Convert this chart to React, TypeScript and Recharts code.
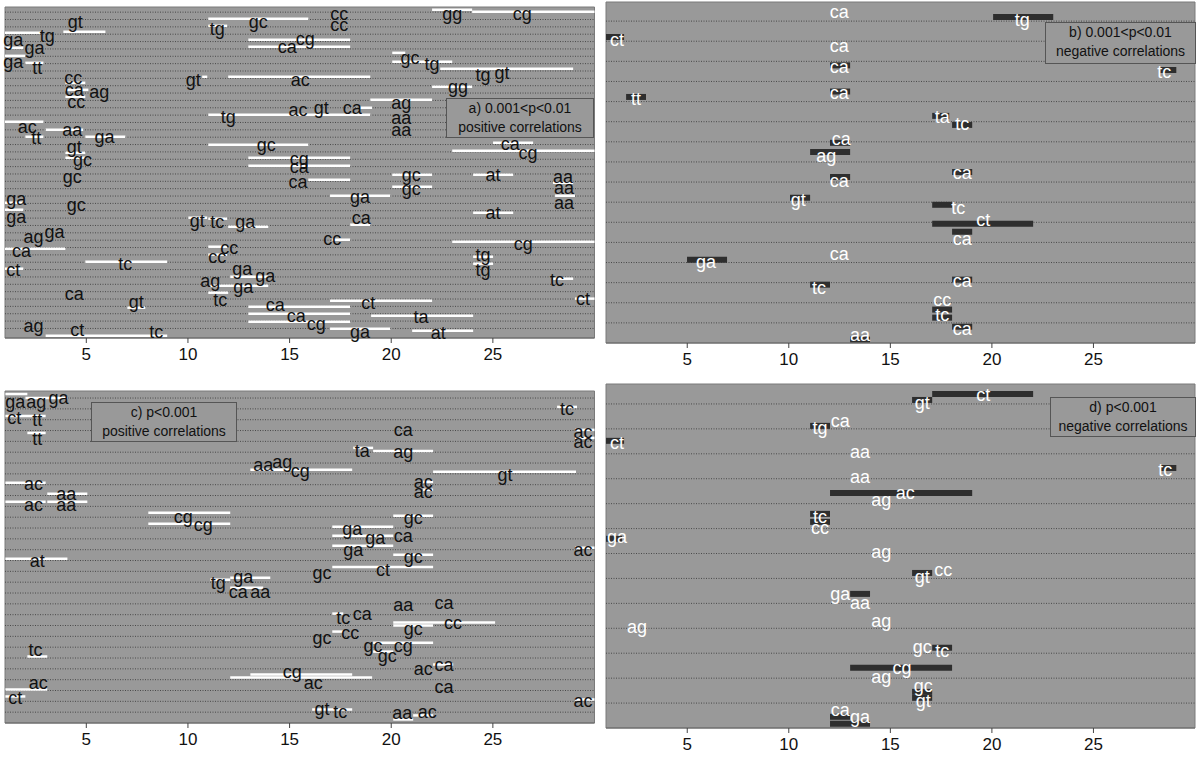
import React from "react";
import {
  ScatterChart, Scatter, XAxis, YAxis, ReferenceLine, ReferenceArea
} from "recharts";

// label: [text, position, row]   segment: [row, from, to]
type Lab = [string, number, number];
type Seg = [number, number, number];

const xTicks = [5, 10, 15, 20, 25];

// a) 0.001<p<0.01 positive correlations
const labelsA: Lab[] = [
  ["gt", 4.46, 2.32], ["tg", 3.08, 4.22], ["ga", 1.41, 4.76], ["ga", 2.45, 5.85], ["ga", 1.41, 7.75],
  ["tt", 2.59, 8.57], ["cc", 4.36, 9.93], ["ca", 4.41, 11.56], ["ag", 5.64, 11.83], ["cc", 4.51, 13.19],
  ["ac", 2.1, 16.58], ["tt", 2.54, 18.08], ["aa", 4.31, 17.0], ["ga", 5.89, 17.94], ["gt", 4.41, 19.3],
  ["gc", 4.81, 21.07], ["gc", 4.31, 23.38], ["ga", 1.56, 26.37], ["gc", 4.51, 27.18], ["ga", 1.56, 28.81],
  ["ag", 2.4, 31.53], ["ga", 3.43, 30.85], ["ca", 1.81, 33.43], ["tc", 6.92, 35.2], ["ct", 1.41, 36.01],
  ["ca", 4.41, 39.27], ["gt", 7.46, 40.36], ["ag", 2.4, 43.62], ["ct", 4.56, 44.17], ["tc", 8.44, 44.44],
  ["gt", 10.26, 10.2], ["tg", 11.44, 3.27], ["gc", 13.46, 2.32], ["ca", 14.88, 5.71], ["cg", 15.77, 4.63],
  ["cc", 17.44, 1.23], ["cc", 17.44, 2.73], ["ac", 15.52, 10.2], ["tg", 11.98, 15.23], ["ac", 15.42, 14.27],
  ["gt", 16.56, 14.0], ["ca", 18.08, 14.0], ["gc", 13.85, 19.03], ["cg", 15.47, 20.93], ["ca", 15.47, 22.02],
  ["ca", 15.42, 24.06], ["gg", 23.0, 1.23], ["cg", 26.44, 1.23], ["gc", 20.93, 7.21], ["tg", 22.01, 8.03],
  ["tg", 24.52, 9.52], ["gt", 25.45, 9.25], ["gg", 23.29, 11.15], ["ag", 20.49, 13.32], ["aa", 20.49, 15.36],
  ["aa", 20.49, 16.99], ["ca", 25.85, 18.89], ["cg", 26.73, 20.12], ["at", 25.01, 23.11], ["aa", 28.45, 23.38],
  ["gc", 20.98, 23.11], ["gc", 20.98, 25.01], ["aa", 28.5, 24.87], ["aa", 28.5, 26.91], ["ga", 18.47, 26.1],
  ["ca", 18.52, 28.95], ["at", 25.01, 28.27], ["cc", 17.1, 31.8], ["cg", 26.49, 32.48], ["tg", 24.52, 33.97],
  ["tg", 24.52, 36.01], ["tc", 28.16, 37.37], ["ct", 29.44, 39.95], ["ct", 18.87, 40.5], ["ca", 14.29, 40.77],
  ["ca", 15.33, 42.26], ["cg", 16.31, 43.35], ["ta", 21.47, 42.4], ["ga", 18.47, 44.44], ["at", 22.31, 44.57],
  ["gt", 10.46, 29.36], ["tc", 11.44, 29.49], ["ga", 12.82, 29.49], ["cc", 12.03, 33.02], ["cc", 11.44, 34.25],
  ["ga", 12.67, 35.88], ["ga", 13.8, 36.83], ["ag", 11.1, 37.5], ["ga", 12.72, 38.32], ["tc", 11.59, 40.09],
];
const segsA: Seg[] = [
  [1.91, 11.0, 15.92], [2.86, 11.0, 11.93], [3.81, 1.0, 2.74], [3.68, 3.87, 5.94], [4.76, 12.97, 17.98],
  [5.71, 12.97, 17.98], [5.85, 1.0, 1.9], [6.94, 1.0, 2.0], [7.89, 2.0, 2.89], [9.79, 11.98, 18.97],
  [9.79, 10.7, 10.95], [10.61, 3.97, 4.95], [11.56, 3.97, 5.1], [12.51, 3.97, 4.95], [14.95, 11.0, 18.97],
  [12.92, 18.97, 22.01], [14.0, 18.47, 19.06], [15.9, 1.0, 2.89], [16.99, 3.0, 4.85], [17.94, 2.0, 2.89],
  [17.94, 4.95, 6.92], [19.03, 11.0, 15.92], [18.76, 25.01, 26.98], [19.84, 23.0, 30], [20.12, 3.97, 4.95],
  [20.8, 12.97, 17.98], [21.88, 12.97, 17.98], [20.8, 3.97, 4.95], [0.69, 22.01, 23.98], [0.96, 23.98, 30],
  [6.53, 20.05, 20.69], [7.75, 20.05, 23.0], [8.7, 22.41, 28.95], [11.15, 22.01, 23.98], [23.11, 20.05, 22.01],
  [23.11, 24.03, 26.0], [23.79, 15.92, 17.98], [24.19, 27.96, 28.95], [24.74, 20.05, 22.01], [25.96, 16.99, 19.95],
  [25.96, 28.06, 29.04], [28.27, 24.03, 26.0], [29.9, 17.98, 18.97], [31.94, 17.1, 17.98], [32.21, 23.0, 30],
  [34.25, 24.03, 25.01], [35.2, 24.03, 25.01], [37.24, 27.96, 28.95], [39.95, 29.04, 30], [40.23, 16.99, 22.01],
  [41.04, 12.97, 17.98], [41.99, 12.97, 17.98], [42.26, 19.01, 24.03], [43.08, 12.97, 17.98], [44.03, 16.99, 19.95],
  [44.3, 21.03, 24.03], [27.86, 1.0, 1.9], [26.91, 1.0, 1.9], [33.16, 1.0, 3.97], [34.93, 4.95, 8.98],
  [35.88, 1.0, 1.9], [41.18, 7.02, 7.9], [44.98, 3.0, 8.98], [28.95, 10.02, 10.95], [29.08, 11.0, 11.93],
  [30.17, 11.98, 13.95], [32.89, 11.0, 11.93], [33.97, 11.0, 11.93], [36.97, 12.08, 13.95], [38.19, 11.1, 13.95],
  [39.14, 11.0, 11.98],
];

// b) 0.001<p<0.01 negative correlations
const labelsB: Lab[] = [
  ["ca", 12.48, 0.55], ["tg", 21.49, 0.95], ["ct", 1.54, 1.94], ["ca", 12.48, 2.24], ["ca", 12.48, 3.28],
  ["tc", 28.49, 3.53], ["tt", 2.48, 4.87], ["ca", 12.48, 4.57], ["ta", 17.55, 5.76], ["tc", 18.54, 6.11],
  ["ca", 12.58, 6.86], ["ag", 11.84, 7.7], ["ca", 12.48, 8.94], ["ca", 18.54, 8.54], ["gt", 10.46, 9.88],
  ["tc", 18.34, 10.28], ["ct", 19.57, 10.88], ["ca", 18.54, 11.82], ["ca", 12.48, 12.56], ["ga", 5.93, 12.96],
  ["ca", 18.54, 13.9], ["tc", 11.49, 14.25], ["cc", 17.55, 14.85], ["tc", 17.55, 15.59], ["ca", 18.54, 16.29],
  ["aa", 13.51, 16.58],
];
const segsB: Seg[] = [
  [0.8, 20.06, 23.02], [1.79, 1.0, 1.89], [3.43, 28.29, 29.08], [4.77, 1.99, 2.97], [5.71, 17.06, 17.9],
  [6.16, 18.04, 19.03], [7.05, 12.03, 13.02], [7.5, 11.05, 13.02], [9.78, 10.06, 11.05], [10.13, 17.06, 18.04],
  [11.07, 17.06, 22.03], [11.47, 18.04, 19.03], [12.86, 4.99, 6.96], [14.1, 11.05, 12.03], [15.34, 17.06, 18.04],
  [15.74, 17.06, 18.04], [16.19, 18.04, 19.03], [16.83, 13.02, 14.0], [3.2, 12.03, 13.02], [4.5, 12.03, 13.02],
  [8.75, 12.03, 13.02], [8.5, 18.04, 19.03], [13.85, 18.04, 19.03],
];

// c) p<0.001 positive correlations
const labelsC: Lab[] = [
  ["ga", 1.51, 1.36], ["ag", 2.54, 1.36], ["ga", 3.63, 1.0], ["ct", 1.46, 2.84], ["tt", 2.59, 3.02],
  ["tt", 2.59, 4.77], ["ac", 2.4, 8.92], ["ac", 2.4, 10.86], ["aa", 4.02, 9.84], ["aa", 4.02, 10.86],
  ["cg", 9.77, 11.96], ["cg", 10.75, 12.7], ["at", 2.59, 16.02], ["aa", 13.7, 7.17], ["ag", 14.64, 6.89],
  ["cg", 15.52, 7.72], ["tc", 28.65, 1.99], ["ca", 20.59, 3.94], ["ac", 29.44, 4.13], ["ac", 29.44, 5.05],
  ["ta", 18.57, 5.88], ["ag", 20.59, 5.97], ["gt", 25.6, 8.09], ["ac", 21.57, 8.74], ["ac", 21.57, 9.66],
  ["gc", 21.08, 12.05], ["ga", 18.08, 13.07], ["ga", 19.21, 13.9], ["ca", 20.59, 13.71], ["ga", 18.13, 14.99],
  ["gc", 21.08, 15.65], ["ac", 29.44, 14.99], ["ct", 19.6, 16.85], ["gc", 16.6, 17.12], ["tg", 11.49, 18.05],
  ["ga", 12.72, 17.49], ["ca", 12.48, 18.88], ["aa", 13.56, 18.88], ["aa", 20.59, 20.08], ["ca", 22.6, 19.89],
  ["tc", 17.64, 21.28], ["ca", 18.57, 20.92], ["gc", 21.08, 22.28], ["cc", 23.04, 21.73], ["gc", 16.6, 23.11],
  ["cc", 17.98, 22.65], ["gc", 19.11, 23.85], ["cg", 20.59, 23.85], ["gc", 19.8, 24.77], ["ac", 21.57, 26.06],
  ["ca", 22.6, 25.6], ["ca", 22.6, 27.72], ["cg", 15.13, 26.25], ["ac", 16.16, 27.27], ["ac", 29.44, 28.99],
  ["gt", 16.6, 29.75], ["tc", 17.49, 30.03], ["aa", 20.54, 30.12], ["ac", 21.77, 30.03], ["tc", 2.5, 24.22],
  ["ac", 2.64, 27.27], ["ct", 1.51, 28.65],
];
const segsC: Seg[] = [
  [0.63, 1.02, 2.1], [1.0, 2.0, 4.07], [2.65, 1.02, 3.0], [4.22, 2.1, 3.0], [8.83, 1.02, 3.0],
  [10.58, 1.02, 3.0], [9.84, 3.08, 5.05], [10.58, 3.08, 5.05], [11.59, 8.05, 12.08], [12.6, 8.05, 12.08],
  [15.83, 1.02, 4.07], [7.63, 13.07, 18.08], [1.82, 28.16, 29.14], [3.94, 29.04, 30], [4.68, 29.04, 30],
  [5.6, 18.13, 19.11], [5.88, 19.11, 22.06], [7.81, 22.06, 29.09], [8.74, 21.57, 22.06], [9.47, 21.57, 22.06],
  [11.87, 20.1, 22.06], [12.88, 17.1, 20.1], [13.71, 17.1, 20.1], [14.63, 17.1, 20.1], [15.46, 20.1, 22.06],
  [14.82, 29.04, 30], [16.6, 17.1, 22.06], [17.77, 11.1, 12.08], [17.59, 12.08, 14.05], [18.51, 12.08, 13.7],
  [20.9, 17.1, 17.64], [21.73, 20.1, 25.11], [22.0, 20.1, 22.06], [22.56, 17.1, 17.64], [23.58, 19.11, 22.06],
  [24.41, 19.11, 20.1], [25.6, 22.06, 23.05], [26.8, 12.08, 19.06], [26.52, 13.07, 18.08], [28.83, 29.04, 30],
  [29.75, 16.11, 18.08], [30.67, 20.1, 21.08], [30.3, 21.08, 22.06], [24.86, 2.1, 3.08], [27.91, 1.02, 3.08],
  [28.55, 1.02, 2.0],
];

// d) p<0.001 negative correlations
const labelsD: Lab[] = [
  ["ct", 19.57, 0.64], ["gt", 16.57, 0.96], ["tg", 11.54, 1.96], ["ca", 12.53, 1.68], ["ct", 1.54, 2.57],
  ["aa", 13.51, 2.93], ["aa", 13.51, 3.93], ["tc", 28.54, 3.65], ["ac", 15.73, 4.57], ["ag", 14.55, 4.85],
  ["tc", 11.54, 5.53], ["cc", 11.54, 5.97], ["ga", 1.54, 6.33], ["ag", 14.55, 6.93], ["cc", 17.6, 7.66],
  ["gt", 16.57, 7.94], ["ga", 12.53, 8.62], ["aa", 13.51, 8.98], ["ag", 2.53, 9.94], ["ag", 14.55, 9.7],
  ["gc", 16.57, 10.74], ["tc", 17.55, 10.9], ["cg", 15.58, 11.58], ["ag", 14.55, 11.94], ["gc", 16.62, 12.3],
  ["gt", 16.62, 12.91], ["ca", 12.53, 13.27], ["ga", 13.51, 13.55],
];
const segsD: Seg[] = [
  [0.6, 17.06, 22.03], [0.84, 16.07, 17.06], [1.88, 11.05, 12.03], [2.48, 1.0, 1.89], [3.57, 28.29, 29.08],
  [4.57, 12.03, 19.03], [5.41, 11.05, 12.03], [5.73, 11.05, 12.03], [6.41, 1.0, 1.79], [7.78, 16.07, 17.06],
  [8.62, 13.02, 14.0], [10.78, 17.06, 18.04], [11.58, 13.02, 18.04], [12.55, 16.07, 17.06], [12.79, 16.07, 17.06],
  [13.55, 12.03, 13.02], [13.83, 12.03, 14.0],
];

const rowsA = Array.from({ length: 44 }, (_, i) => i + 1);
const rowsB = Array.from({ length: 16 }, (_, i) => i + 1);
const rowsC = Array.from({ length: 30 }, (_, i) => i + 1);
const rowsD = Array.from({ length: 13 }, (_, i) => i + 1);

const FONT = "'Liberation Sans', Arial, sans-serif";
const BG = "#999999";

interface PanelProps {
  left: number; top: number; height: number;
  marginTop: number; marginLeft: number; marginRight: number; axisH: number;
  yDomain: [number, number]; rows: number[];
  labels: Lab[]; segs: Seg[];
  dark: boolean;
}

function Panel(p: PanelProps) {
  const data = p.labels.map(([t, x, y]) => ({ t, x, y }));
  const segColor = p.dark ? "#2e2e2e" : "#ffffff";
  const segW = p.dark ? 6 : 2.5;
  const txtColor = p.dark ? "#ffffff" : "#111111";
  return (
    <div style={{ position: "absolute", left: p.left, top: p.top }}>
      <ScatterChart
        width={600}
        height={p.height}
        margin={{ top: p.marginTop, right: p.marginRight, bottom: 2, left: p.marginLeft }}
      >
        <XAxis
          dataKey="x" type="number" domain={[1, 30]} ticks={xTicks} interval={0}
          height={p.axisH} tickSize={5} tickMargin={5}
          tick={{ fontSize: 17, fill: "#111", fontFamily: FONT }}
          tickLine={{ stroke: "#444" }} axisLine={{ stroke: "#666" }}
        />
        <YAxis dataKey="y" type="number" domain={p.yDomain} reversed hide />
        <ReferenceArea
          x1={1} x2={30} y1={p.yDomain[0]} y2={p.yDomain[1]}
          fill={BG} fillOpacity={1} stroke="#7a7a7a"
        />
        {p.rows.map((r) => (
          <ReferenceLine key={"g" + r} y={r} stroke="#4a4a4a" strokeDasharray="1 1.5" strokeWidth={1} />
        ))}
        {p.segs.map(([y, x1, x2], i) => (
          <ReferenceLine
            key={"s" + i}
            segment={[{ x: x1, y }, { x: x2, y }]}
            stroke={segColor} strokeWidth={segW}
          />
        ))}
        <Scatter
          data={data}
          isAnimationActive={false}
          shape={(s: any) => (
            <text
              x={s.cx} y={s.cy} textAnchor="middle" dominantBaseline="central"
              fontSize={18} fontFamily={FONT} fill={txtColor}
            >
              {s.payload.t}
            </text>
          )}
        />
      </ScatterChart>
    </div>
  );
}

function LegendBox({ x, y, w, h, lines }: { x: number; y: number; w: number; h: number; lines: string[] }) {
  return (
    <div
      style={{
        position: "absolute", left: x, top: y, width: w, height: h, boxSizing: "border-box",
        border: "1px solid #555", background: BG, fontFamily: FONT, fontSize: 14,
        color: "#111", textAlign: "center", lineHeight: "19px",
      }}
    >
      {lines.map((l) => <div key={l}>{l}</div>)}
    </div>
  );
}

export default function App() {
  return (
    <div style={{ position: "absolute", left: 0, top: 0, width: 1200, height: 757, background: "#fff" }}>
      <Panel left={0} top={0} height={372} marginTop={7} marginLeft={5} marginRight={5.5} axisH={32}
        yDomain={[0.3, 45.3]} rows={rowsA} labels={labelsA} segs={segsA} dark={false} />
      <Panel left={600} top={0} height={372} marginTop={2} marginLeft={6} marginRight={5} axisH={27}
        yDomain={[0.05, 17]} rows={rowsB} labels={labelsB} segs={segsB} dark />
      <Panel left={0} top={384} height={373} marginTop={7} marginLeft={5} marginRight={5.5} axisH={32}
        yDomain={[0.35, 31]} rows={rowsC} labels={labelsC} segs={segsC} dark={false} />
      <Panel left={600} top={380} height={377} marginTop={4} marginLeft={6} marginRight={5} axisH={27}
        yDomain={[0.2, 14]} rows={rowsD} labels={labelsD} segs={segsD} dark />
      <LegendBox x={446} y={98} w={148} h={40} lines={["a) 0.001<p<0.01", "positive correlations"]} />
      <LegendBox x={1045} y={22} w={151} h={42} lines={["b) 0.001<p<0.01", "negative correlations"]} />
      <LegendBox x={91} y={402} w={146} h={40} lines={["c) p<0.001", "positive correlations"]} />
      <LegendBox x={1050} y={397} w={146} h={40} lines={["d) p<0.001", "negative correlations"]} />
    </div>
  );
}
